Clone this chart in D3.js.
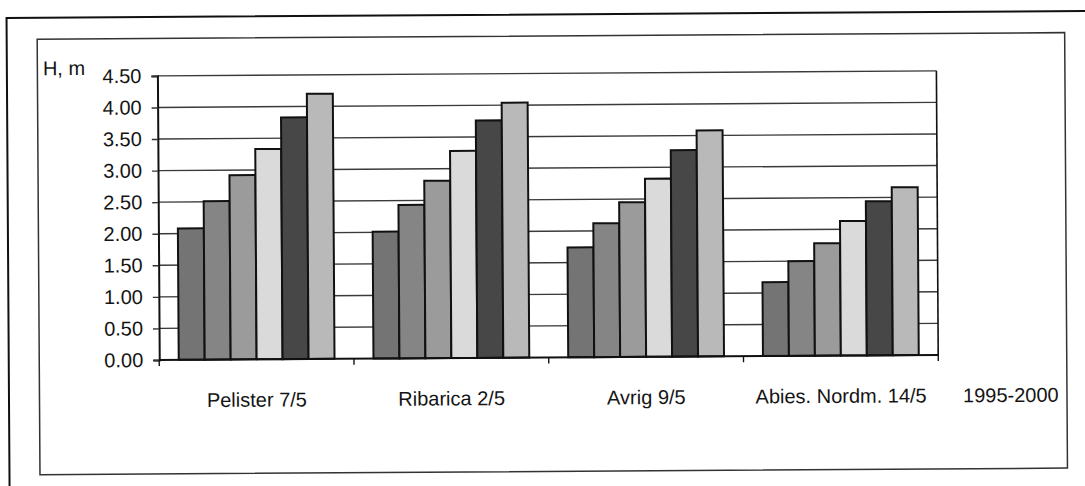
<!DOCTYPE html>
<html>
<head>
<meta charset="utf-8">
<script src="https://cdn.jsdelivr.net/npm/d3@7"></script>
<style>
  html, body { margin: 0; padding: 0; background: #ffffff; }
  svg { display: block; }
  text { font-family: "Liberation Sans", Arial, sans-serif; fill: #141414; }
</style>
</head>
<body>
<svg id="chart" width="1085" height="486"></svg>
<script>
// Tree height by provenance, 1995-2000
const categories = ["Pelister 7/5", "Ribarica 2/5", "Avrig 9/5", "Abies. Nordm. 14/5"];
const years = ["1995", "1996", "1997", "1998", "1999", "2000"];
const h1995 = [2.08, 2.01, 1.74, 1.17];
const h1996 = [2.51, 2.43, 2.12, 1.50];
const h1997 = [2.92, 2.81, 2.45, 1.78];
const h1998 = [3.33, 3.28, 2.82, 2.13];
const h1999 = [3.83, 3.76, 3.27, 2.44];
const h2000 = [4.20, 4.04, 3.58, 2.66];
const yTicks = [0, 0.5, 1, 1.5, 2, 2.5, 3, 3.5, 4, 4.5];
const yAxisTitle = "H, m";
const seriesTitle = "1995-2000";

const seriesValues = [h1995, h1996, h1997, h1998, h1999, h2000];
const yearFill = ["#747474", "#858585", "#9b9b9b", "#dadada", "#474747", "#b9b9b9"];

const svg = d3.select("#chart");
// the whole sheet sits slightly askew
const sheet = svg.append("g").attr("transform", "rotate(-0.37, 542, 243)");

// outer and inner frames
sheet.append("path")
  .attr("d", "M8,520 L8,14.5 L1100,14.5")
  .attr("fill", "none").attr("stroke", "#111").attr("stroke-width", 2);
sheet.append("rect")
  .attr("x", 38.5).attr("y", 36).attr("width", 1027.5).attr("height", 435.5)
  .attr("fill", "none").attr("stroke", "#333").attr("stroke-width", 1.5);

const plot = { left: 158.5, right: 937.5, top: 73.4, bottom: 357.5 };

const y = d3.scaleLinear().domain([0, 4.5]).range([plot.bottom, plot.top]);
const x0 = d3.scaleBand().domain(categories).range([plot.left, plot.right])
  .paddingInner(0).paddingOuter(0);
const x1 = d3.scaleBand().domain(years).range([0, x0.bandwidth()])
  .paddingInner(0).paddingOuter(0.75);

// gridlines
sheet.append("g").selectAll("line").data(yTicks.filter(d => d > 0)).join("line")
  .attr("x1", plot.left).attr("x2", plot.right)
  .attr("y1", d => y(d)).attr("y2", d => y(d))
  .attr("stroke", "#3a3a3a").attr("stroke-width", 1.4);

// right border of the plot area
sheet.append("line")
  .attr("x1", plot.right).attr("x2", plot.right).attr("y1", plot.top).attr("y2", plot.bottom)
  .attr("stroke", "#111").attr("stroke-width", 1.6);

// bars
const groups = sheet.append("g").selectAll("g").data(categories).join("g")
  .attr("transform", d => `translate(${x0(d)},0)`);
groups.selectAll("rect")
  .data((c, ci) => years.map((yr, si) => ({ yr, si, v: seriesValues[si][ci] })))
  .join("rect")
  .attr("x", d => x1(d.yr))
  .attr("width", x1.bandwidth())
  .attr("y", d => y(d.v))
  .attr("height", d => y(0) - y(d.v))
  .attr("fill", d => yearFill[d.si])
  .attr("stroke", "#111").attr("stroke-width", 2);

// y axis
const yAxis = d3.axisLeft(y).tickValues(yTicks).tickFormat(d3.format(".2f"))
  .tickSize(6).tickPadding(10);
const ya = sheet.append("g").attr("transform", `translate(${plot.left},0)`).call(yAxis);
ya.select(".domain").attr("stroke", "#111").attr("stroke-width", 2);
ya.selectAll(".tick line").attr("stroke", "#333").attr("stroke-width", 1.4);
ya.selectAll(".tick text").attr("font-size", 20).attr("font-family", "Liberation Sans, Arial, sans-serif")
  .attr("fill", "#141414");

// x axis with ticks at the category boundaries
const xa = sheet.append("g").attr("transform", `translate(0,${plot.bottom})`);
xa.append("line").attr("x1", plot.left).attr("x2", plot.right)
  .attr("stroke", "#111").attr("stroke-width", 2);
const boundaries = categories.map(c => x0(c)).concat([plot.right]);
xa.selectAll("line.tick").data(boundaries).join("line").attr("class", "tick")
  .attr("x1", d => d).attr("x2", d => d).attr("y1", 0).attr("y2", 6)
  .attr("stroke", "#111").attr("stroke-width", 1.4);
xa.selectAll("text").data(categories).join("text")
  .attr("x", d => x0(d) + x0.bandwidth() / 2)
  .attr("y", 47.3)
  .attr("text-anchor", "middle")
  .attr("font-size", 20)
  .text(d => d);

// titles
sheet.append("text").attr("x", 44).attr("y", 72).attr("font-size", 20).text(yAxisTitle);
sheet.append("text").attr("x", 962).attr("y", 405).attr("font-size", 20).text(seriesTitle);
</script>
</body>
</html>
